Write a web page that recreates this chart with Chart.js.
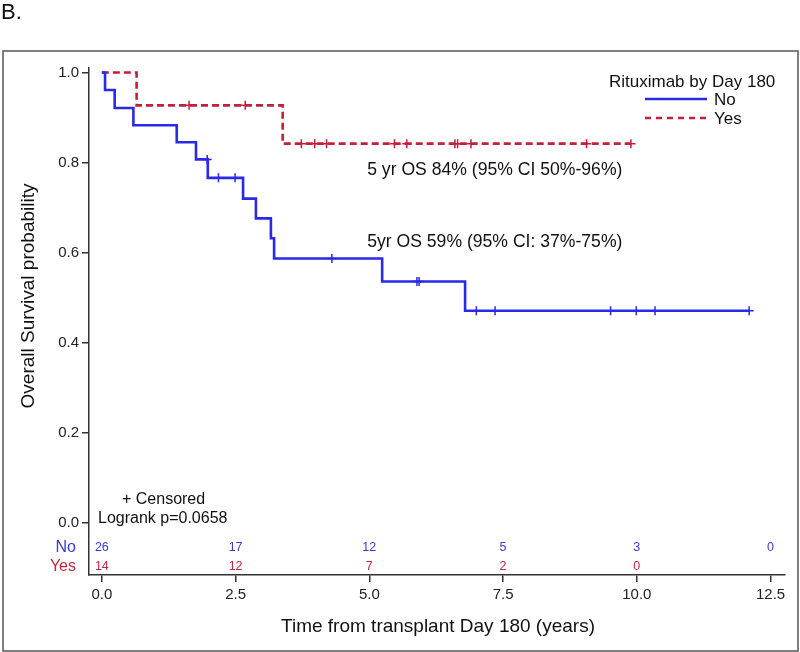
<!DOCTYPE html>
<html>
<head>
<meta charset="utf-8">
<script src="https://cdn.jsdelivr.net/npm/chart.js@4/dist/chart.umd.min.js"></script>
<style>
  html, body { margin: 0; padding: 0; background: #fff; }
  #wrap { width: 800px; height: 652px; }
</style>
</head>
<body>
<div id="wrap"><canvas id="km"></canvas></div>
<script>
// Kaplan-Meier steps
const noTimes = [0, 0.06, 0.24, 0.59, 1.40, 1.76, 1.98, 2.64, 2.88, 3.16, 3.22, 5.24, 6.79, 12.10];
const noSurv  = [1.0, 0.961, 0.921, 0.883, 0.845, 0.807, 0.766, 0.720, 0.676, 0.632, 0.587, 0.536, 0.471, 0.471];
const noCensored = [1.97, 2.18, 2.49, 4.30, 5.89, 5.93, 7.00, 7.35, 9.51, 9.99, 10.34, 12.10];

const yesTimes = [0, 0.65, 3.38, 9.89];
const yesSurv  = [1.0, 0.927, 0.842, 0.842];
const yesCensored = [1.63, 2.68, 3.73, 3.98, 4.20, 5.47, 5.70, 6.60, 6.65, 6.90, 9.06, 9.89];

// number at risk table
const riskTimes = [0, 2.5, 5, 7.5, 10, 12.5];
const noAtRisk  = [26, 17, 12, 5, 3, 0];
const yesAtRisk = [14, 12, 7, 2, 0];

const yTicks = [0, 0.2, 0.4, 0.6, 0.8, 1.0];

const BLUE = '#2a2ae6';
const RED = '#c41e3a';
const FONT = "'Liberation Sans', Arial, sans-serif";

Chart.defaults.font.family = FONT;

// survival value at time t (step lookup)
function survAt(times, surv, t) {
  let s = surv[0];
  for (let i = 0; i < times.length; i++) {
    if (times[i] <= t) s = surv[i];
  }
  return s;
}

const pts = (xs, ys) => xs.map((x, i) => ({ x, y: ys[i] }));
const cens = (ct, times, surv) => ct.map(t => ({ x: t, y: survAt(times, surv, t) }));

const decorations = {
  id: 'decorations',
  afterDraw(chart) {
    const ctx = chart.ctx;
    const xs = chart.scales.x, ys = chart.scales.y;
    const area = chart.chartArea;
    ctx.save();

    // outer frame
    ctx.strokeStyle = '#555';
    ctx.lineWidth = 1.5;
    ctx.strokeRect(3, 51, 795, 600);

    ctx.fillStyle = '#111';
    ctx.textBaseline = 'middle';

    // panel letter
    ctx.font = '22px ' + FONT;
    ctx.textAlign = 'left';
    ctx.fillText('B.', 1, 13);

    // axis titles
    ctx.font = '19px ' + FONT;
    ctx.textAlign = 'center';
    ctx.fillText('Time from transplant Day 180 (years)', 438, 627);
    ctx.save();
    ctx.translate(29, 296);
    ctx.rotate(-Math.PI / 2);
    ctx.fillText('Overall Survival probability', 0, 0);
    ctx.restore();

    // legend
    ctx.font = '17px ' + FONT;
    ctx.textAlign = 'left';
    ctx.fillText('Rituximab by Day 180', 609, 82);
    ctx.fillText('No', 714, 100);
    ctx.fillText('Yes', 714, 119);
    ctx.lineWidth = 2.5;
    ctx.strokeStyle = BLUE;
    ctx.beginPath(); ctx.moveTo(645, 99); ctx.lineTo(707, 99); ctx.stroke();
    ctx.strokeStyle = RED;
    ctx.setLineDash([6, 5]);
    ctx.beginPath(); ctx.moveTo(645, 118); ctx.lineTo(707, 118); ctx.stroke();
    ctx.setLineDash([]);

    // OS annotations
    ctx.fillStyle = '#111';
    ctx.font = '17.6px ' + FONT;
    ctx.fillText('5 yr OS 84% (95% CI 50%-96%)', xs.getPixelForValue(4.96), ys.getPixelForValue(0.784));
    ctx.fillText('5yr OS 59% (95% CI: 37%-75%)', xs.getPixelForValue(4.96), ys.getPixelForValue(0.624));

    // censor note + logrank
    ctx.font = '16px ' + FONT;
    ctx.fillText('+ Censored', 122, 500);
    ctx.fillText('Logrank p=0.0658', 98, 519);

    // at risk table
    const rowNo = ys.getPixelForValue(-0.056);
    const rowYes = ys.getPixelForValue(-0.098);
    ctx.font = '16px ' + FONT;
    ctx.textAlign = 'right';
    ctx.fillStyle = '#3a3ad0';
    ctx.fillText('No', 76, rowNo);
    ctx.fillStyle = '#c0283c';
    ctx.fillText('Yes', 76, rowYes);
    ctx.font = '12.5px ' + FONT;
    ctx.textAlign = 'center';
    ctx.fillStyle = '#3a3ad0';
    noAtRisk.forEach((n, i) => ctx.fillText(String(n), xs.getPixelForValue(riskTimes[i]), rowNo));
    ctx.fillStyle = '#c0283c';
    yesAtRisk.forEach((n, i) => ctx.fillText(String(n), xs.getPixelForValue(riskTimes[i]), rowYes));

    ctx.restore();
  }
};

new Chart(document.getElementById('km'), {
  type: 'line',
  data: {
    datasets: [
      {
        label: 'No',
        data: pts(noTimes, noSurv),
        borderColor: BLUE,
        borderWidth: 2.6,
        stepped: 'before',
        pointRadius: 0,
        fill: false
      },
      {
        label: 'Yes',
        data: pts(yesTimes, yesSurv),
        borderColor: RED,
        borderWidth: 2.6,
        borderDash: [7, 4],
        stepped: 'before',
        pointRadius: 0,
        fill: false
      },
      {
        label: 'No censored',
        data: cens(noCensored, noTimes, noSurv),
        showLine: false,
        pointStyle: 'cross',
        pointRadius: 4.5,
        pointBorderWidth: 1.5,
        borderColor: BLUE
      },
      {
        label: 'Yes censored',
        data: cens(yesCensored, yesTimes, yesSurv),
        showLine: false,
        pointStyle: 'cross',
        pointRadius: 4.5,
        pointBorderWidth: 1.5,
        borderColor: RED
      }
    ]
  },
  options: {
    responsive: true,
    maintainAspectRatio: false,
    animation: false,
    layout: { padding: { top: 68, right: 15, left: 0, bottom: 0 } },
    plugins: {
      legend: { display: false },
      tooltip: { enabled: false }
    },
    scales: {
      x: {
        type: 'linear',
        min: -0.24,
        max: 12.77,
        afterBuildTicks: s => { s.ticks = riskTimes.map(v => ({ value: v })); },
        afterFit: s => { s.height = 77; },
        ticks: {
          callback: v => Number(v).toFixed(1),
          font: { size: 15 },
          color: '#222',
          padding: 4,
          maxRotation: 0
        },
        grid: { drawOnChartArea: false, drawTicks: true, tickLength: 7, color: '#333', lineWidth: 1.5 },
        border: { display: true, color: '#333', width: 1.5 }
      },
      y: {
        type: 'linear',
        min: -0.116,
        max: 1.01,
        afterBuildTicks: s => { s.ticks = yTicks.map(v => ({ value: v })); },
        afterFit: s => { s.width = 89; },
        ticks: {
          callback: v => Number(v).toFixed(1),
          font: { size: 15 },
          color: '#222',
          padding: 3
        },
        grid: { drawOnChartArea: false, drawTicks: true, tickLength: 7, color: '#333', lineWidth: 1.5 },
        border: { display: true, color: '#333', width: 1.5 }
      }
    }
  },
  plugins: [decorations]
});
</script>
</body>
</html>
